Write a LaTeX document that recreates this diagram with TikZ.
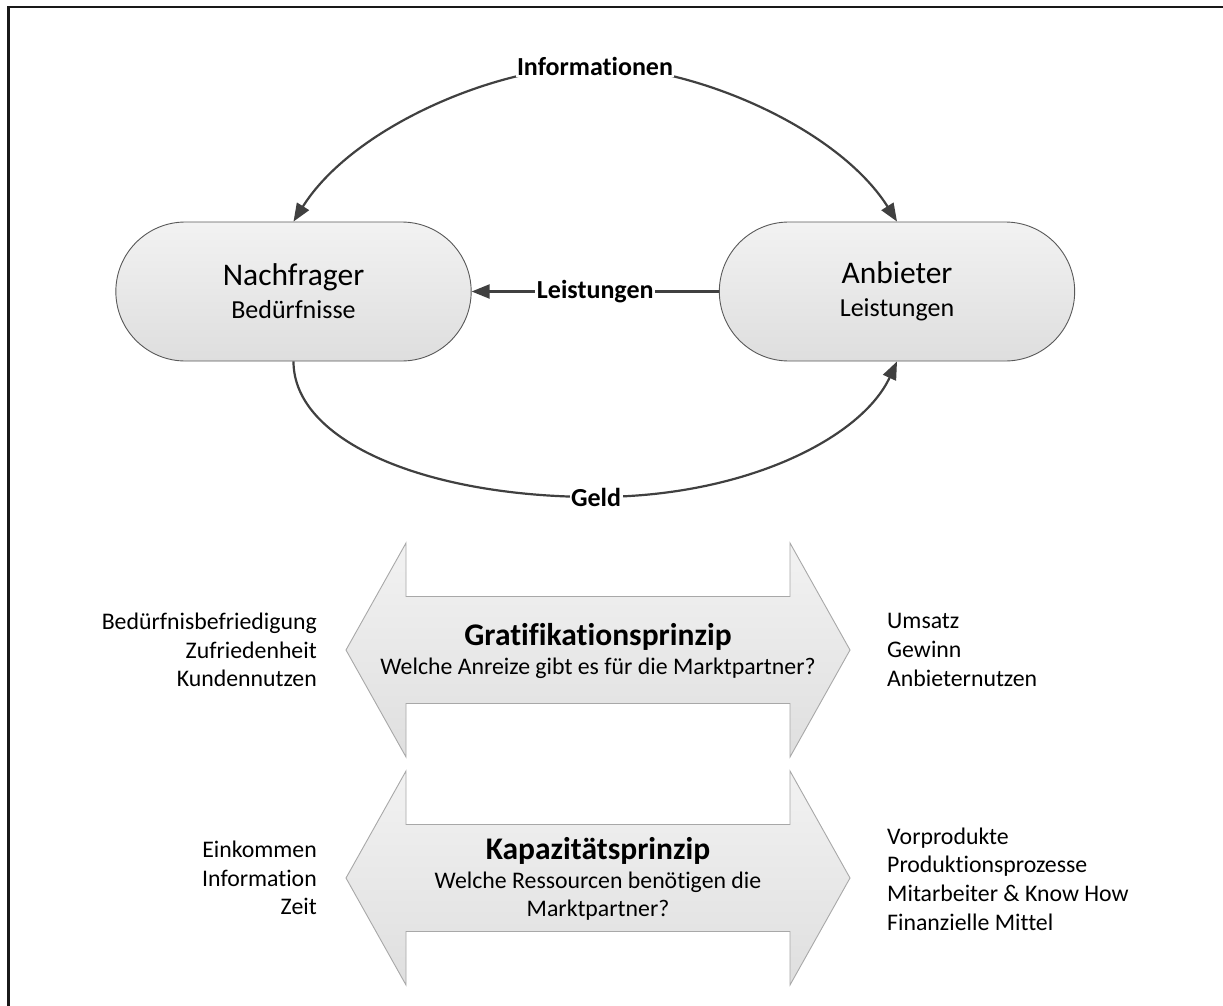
\documentclass[tikz,border=0pt]{standalone}
\usepackage{fontspec}
\setmainfont{Carlito}[Ligatures={NoCommon}]
\usetikzlibrary{arrows.meta,shapes.misc}

\definecolor{linegray}{HTML}{404040}
\definecolor{boxline}{HTML}{595959}
\definecolor{boxtop}{HTML}{F2F2F2}
\definecolor{boxbot}{HTML}{DEDEDE}
\definecolor{arrowline}{HTML}{A8A8A8}
\definecolor{arrtop}{HTML}{F2F2F2}
\definecolor{arrbot}{HTML}{DFDFDF}

\newcommand\ftitle{\fontsize{31.5}{38}\selectfont}
\newcommand\flabel{\fontsize{26}{33}\selectfont}
\newcommand\fside{\fontsize{23.8}{28.7}\selectfont}

\tikzset{
  party/.style={rounded rectangle, minimum width=362pt, minimum height=139pt,
    draw=boxline, line width=0.9pt, top color=boxtop, bottom color=boxbot,
    align=center, font=\flabel, text=black},
  conn/.style={draw=linegray, line width=2.2pt, -{Triangle[length=18pt,width=14pt]}},
  flowlabel/.style={fill=white, inner sep=1.5pt, font=\flabel\bfseries, text=black},
  blockarrow/.style={draw=arrowline, line width=0.9pt, top color=arrtop, bottom color=arrbot},
  principle/.style={align=center, font=\fside, inner sep=0pt, text=black},
  sidetext/.style={font=\fside, inner sep=0pt, text=black},
}

\begin{document}
\begin{tikzpicture}[x=1pt,y=-1pt]
\useasboundingbox (0,0) rectangle (1223,1006);
\fill[white] (0,0) rectangle (1223,1006);

% page frame (left and top edges)
\draw[line width=2.4pt, black!90] (8.5,1010) -- (8.5,7) -- (1230,7);

% market partners
\node[party] (nach) at (293.5,291.5) {{\ftitle Nachfrager}\\Bedürfnisse};
\node[party] (anb)  at (897,291.5)   {{\ftitle Anbieter}\\Leistungen};

% flows between the partners
\draw[conn, {Triangle[length=18pt,width=14pt]}-{Triangle[length=18pt,width=14pt]}]
  (nach.north) .. controls +(58.5,-93.5) and +(-100,0) ..
  (595,66) node[flowlabel] (info) {Informationen}
  .. controls +(100,0) and +(-59,-93.5) .. (anb.north);

\draw[conn] (anb.west) -- node[flowlabel] (leist) {Leistungen} (nach.east);

\draw[conn] (nach.south) .. controls +(0,80) and +(-170,0) ..
  (596,497) node[flowlabel] (geld) {Geld}
  .. controls +(150,0) and +(-35,76) .. (anb.south);

% principle block arrows
\foreach \dy in {0,228}{
  \begin{scope}[shift={(0,\dy)}]
    \path[blockarrow] (346,650) -- (406,543) -- (406,596.5) -- (790,596.5)
      -- (790,543) -- (850,650) -- (790,757) -- (790,703.5) -- (406,703.5)
      -- (406,757) -- cycle;
  \end{scope}
}

\node[principle] (grat) at (598,651)
  {{\ftitle\bfseries Gratifikationsprinzip}\\Welche Anreize gibt es für die Marktpartner?};
\node[principle] (kap) at (598,879)
  {{\ftitle\bfseries Kapazitätsprinzip}\\Welche Ressourcen benötigen die\\Marktpartner?};

% side notes
\node[sidetext, anchor=east, align=right] (needs) at (317,650)
  {Bedürfnisbefriedigung\\Zufriedenheit\\Kundennutzen};
\node[sidetext, anchor=west, align=left] (gains) at (887,650)
  {Umsatz\\Gewinn\\Anbieternutzen};
\node[sidetext, anchor=east, align=right] (means) at (317,878)
  {Einkommen\\Information\\Zeit};
\node[sidetext, anchor=west, align=left] (inputs) at (887,879)
  {Vorprodukte\\Produktionsprozesse\\Mitarbeiter \& Know How\\Finanzielle Mittel};
\end{tikzpicture}
\end{document}
